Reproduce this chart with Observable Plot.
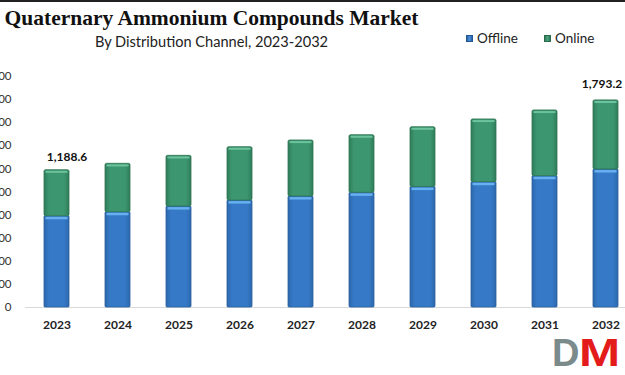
<!DOCTYPE html>
<html>
<head>
<meta charset="utf-8">
<script src="https://cdn.jsdelivr.net/npm/d3@7"></script>
<script src="https://cdn.jsdelivr.net/npm/@observablehq/plot@0.6"></script>
<style>
  html, body { margin: 0; padding: 0; background: #fff; overflow: hidden; }
  body { width: 625px; height: 375px; position: relative; font-family: Lato, "Liberation Sans", sans-serif; }
  #topline { position: absolute; left: 0; top: 0; width: 625px; height: 2px; background: #222; }
  #title { position: absolute; left: 0; top: 5px; width: 423px; text-align: center; font-family: "Liberation Serif", "DejaVu Serif", serif; font-weight: bold; font-size: 21.5px; line-height: 26px; color: #111; white-space: nowrap; }
  #subtitle { position: absolute; left: 0; top: 32px; width: 423px; text-align: center; font-size: 14.6px; line-height: 20px; color: #222; white-space: nowrap; }
  .leg { position: absolute; top: 29px; font-size: 13.5px; line-height: 18px; color: #222; white-space: nowrap; }
  .sw { position: absolute; width: 5px; height: 5px; top: 35px; }
  #clip { position: absolute; left: 0; top: 0; width: 625px; height: 375px; overflow: hidden; }
  #chart { position: absolute; left: -30px; top: 0; width: 668px; height: 375px; }
  #chart svg { display: block; }
  #logo { position: absolute; left: 552px; top: 334px; height: 38px; display: flex; font-family: "Liberation Sans", sans-serif; font-weight: bold; font-size: 38px; line-height: 38px; white-space: nowrap; }
  #logo .d { display: block; color: #7b8a8b; }
  #logo .m { display: block; color: #e31b1b; transform: scaleX(1.3); transform-origin: left; }
</style>
</head>
<body>
<div id="topline"></div>
<div id="title">Quaternary Ammonium Compounds Market</div>
<div id="subtitle">By Distribution Channel, 2023-2032</div>
<div class="sw" style="left:466px;background:linear-gradient(90deg,#2a63a6,#4a8fdc,#2a63a6);border:0.5px solid #24578f"></div>
<div class="leg" style="left:477px">Offline</div>
<div class="sw" style="left:544px;background:linear-gradient(90deg,#2f7a58,#4aa57e,#2f7a58);border:0.5px solid #2a6b4d"></div>
<div class="leg" style="left:555px">Online</div>
<div id="clip"><div id="chart"></div></div>
<div id="logo"><span class="d">D</span><span class="m">M</span></div>
<script>
const years = ["2023","2024","2025","2026","2027","2028","2029","2030","2031","2032"];
const offline = [790, 825, 874, 926, 961, 993, 1043, 1085, 1137, 1195];
const online = [398.6, 419, 439, 462, 485, 499, 518, 543, 569, 598.2];
const yTicks = [0, 200, 400, 600, 800, 1000, 1200, 1400, 1600, 1800, 2000];
const labelledYears = ["2023", "2032"];

const data = years.map((y, i) => ({year: y, offline: offline[i], online: online[i], total: +(offline[i] + online[i]).toFixed(1)}));
const fmt = d3.format(",.1f");

const svg = Plot.plot({
  width: 668,
  height: 375,
  marginLeft: 55,
  marginRight: 0,
  marginTop: 76,
  marginBottom: 68,
  style: {fontFamily: "Lato, 'Liberation Sans', sans-serif", background: "transparent", color: "#222"},
  x: {domain: years, paddingInner: 0.59, paddingOuter: 0.3, align: 0.5, label: null},
  y: {domain: [0, 2000], label: null},
  marks: [
    Plot.ruleY([0], {stroke: "#d9d9d9", strokeWidth: 1}),
    Plot.barY(data, {x: "year", y1: 0, y2: "offline", fill: "url(#gOff)", stroke: "#2a5f9e", strokeWidth: 0.8, rx: 1}),
    Plot.barY(data, {x: "year", y1: "offline", y2: "total", fill: "url(#gOn)", stroke: "#2d7352", strokeWidth: 0.8, rx: 1.5}),
    Plot.tickY(data, {x: "year", y: "offline", stroke: "#66b0f0", strokeWidth: 2.5, dy: 1.8, insetLeft: 1.5, insetRight: 1.5}),
    Plot.tickY(data, {x: "year", y: "total", stroke: "#6cc29c", strokeWidth: 2, dy: 1.6, insetLeft: 1.5, insetRight: 1.5}),
    Plot.text(data.filter(d => d.year === labelledYears[0]), {x: "year", y: "total", text: d => fmt(d.total), dx: 10, dy: -9, lineAnchor: "bottom", fontWeight: "bold", fontSize: 12, fill: "#111"}),
    Plot.text(data.filter(d => d.year === labelledYears[1]), {x: "year", y: "total", text: d => fmt(d.total), dx: -4, dy: -12, lineAnchor: "bottom", fontWeight: "bold", fontSize: 12, fill: "#111"}),
    Plot.axisX({tickSize: 0, tickPadding: 13, fontWeight: "bold", fontSize: 12, fill: "#222"}),
    Plot.axisY({ticks: yTicks, tickSize: 0, tickPadding: 14, tickFormat: d3.format(","), fontSize: 11.5, fill: "#333"})
  ]
});

const defs = d3.select(svg).insert("defs", ":first-child");
function grad(id, edge, mid) {
  const g = defs.append("linearGradient").attr("id", id).attr("x1", "0").attr("x2", "1").attr("y1", "0").attr("y2", "0");
  g.append("stop").attr("offset", "0").attr("stop-color", edge);
  g.append("stop").attr("offset", "0.2").attr("stop-color", mid);
  g.append("stop").attr("offset", "0.8").attr("stop-color", mid);
  g.append("stop").attr("offset", "1").attr("stop-color", edge);
}
grad("gOff", "#2c68ad", "#3679c7");
grad("gOn", "#2f7c59", "#3c9770");

document.getElementById("chart").appendChild(svg);
</script>
</body>
</html>
